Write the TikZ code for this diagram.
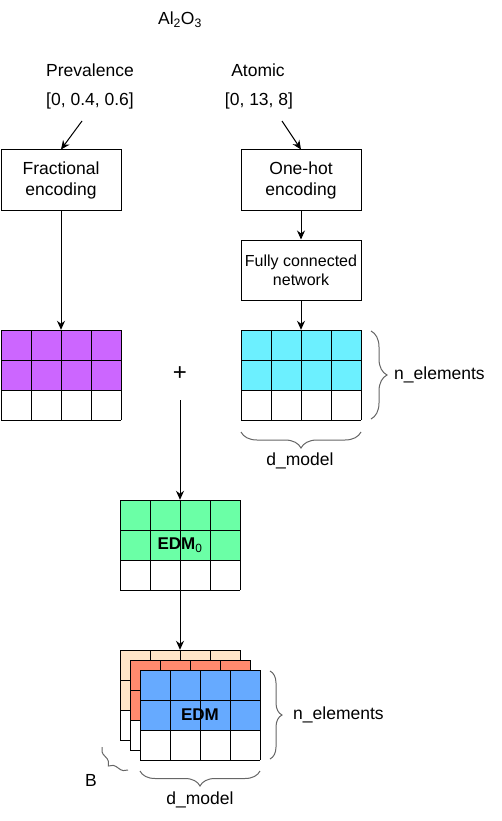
\documentclass[tikz,border=0pt]{standalone}
\usepackage{fontspec}
\setmainfont{Liberation Sans}
\usetikzlibrary{arrows.meta,decorations.pathreplacing,calc}
\definecolor{cpurple}{HTML}{CC66FF}
\definecolor{ccyan}{HTML}{6CF0FF}
\definecolor{cgreen}{HTML}{6BFFA6}
\definecolor{cblue}{HTML}{66AAFF}
\definecolor{csalmon}{HTML}{FF8A6E}
\definecolor{cpeach}{HTML}{FFE5C8}
\newcommand{\mkgrid}[5]{%
  \fill[white] (#2,#3) rectangle ++(120,90);
  \fill[#4] (#2,#3) rectangle ++(120,60);
  \foreach \i in {0,30,60,90,120} \draw[cellline] (#2+\i,#3) -- ++(0,90);
  \foreach \j in {0,30,60,90} \draw[cellline] (#2,#3+\j) -- ++(120,0);
  \node[gridlabel] (#1) at (#2+60,#3+45) {#5};
}
\begin{document}
\begin{tikzpicture}[x=1pt,y=-1pt,
  txt/.style={font=\fontsize{17.5}{21}\selectfont, inner sep=0pt, align=center},
  box/.style={draw, line width=1pt, minimum width=120pt, minimum height=60pt, inner sep=0pt, align=center, font=\fontsize{17.5}{21}\selectfont},
  arr/.style={line width=1pt, -{Stealth[length=9pt,width=8pt]}},
  cellline/.style={line width=1pt},
  gridlabel/.style={inner sep=0pt, minimum width=120pt, minimum height=90pt, font=\fontsize{17}{20}\selectfont\bfseries},
  brc/.style={draw=black!60, line width=1pt, decorate, decoration={brace, amplitude=#1}},
]
\useasboundingbox (0,0) rectangle (501,821);

% top texts
\node[txt] (formula) at (180,20) {Al\textsubscript{2}O\textsubscript{3}};
\node[txt] (prev) at (90,70) {Prevalence};
\node[txt] (prevval) at (90,101) {[0, 0.4, 0.6]};
\node[txt] (atom) at (258,70) {Atomic};
\node[txt] (atomval) at (259,101) {[0, 13, 8]};

% boxes
\node[box] (frac) at (61,180) {Fractional\\encoding};
\node[box] (onehot) at (301,180) {One-hot\\encoding};
\node[box, font=\fontsize{16}{19}\selectfont] (fc) at (301,270) {Fully connected\\network};

% grids
\mkgrid{purple}{1}{330}{cpurple}{}
\mkgrid{cyan}{241}{330}{ccyan}{}
\node[txt, font=\fontsize{24}{26}\selectfont] (plus) at (180,374) {+};
\mkgrid{edmzero}{120}{500}{cgreen}{EDM\textsubscript{\mdseries 0}}
\mkgrid{back}{120}{650}{cpeach}{}
\mkgrid{mid}{130}{660}{csalmon}{}
\mkgrid{edm}{140}{670}{cblue}{EDM}

% connectors
\coordinate (s1) at (82,121);
\coordinate (s2) at (282,121);
\coordinate (s3) at (180,400);
\draw[arr] (s1) -- (frac.north);
\draw[arr] (s2) -- (onehot.north);
\draw[arr] (onehot.south) -- (fc.north);
\draw[arr] (frac.south) -- (purple.north);
\draw[arr] (fc.south) -- (cyan.north);
\draw[arr] (s3) -- (edmzero.north);
\draw[arr] (edmzero.south) -- (back.north);

% braces
\draw[brc=16pt] (371,331) -- (371,419);
\node[txt, anchor=west] (nel1) at (394,375) {n\_elements};
\draw[brc=16pt] (361,432) -- (241,432);
\node[txt] (dm1) at (300,461) {d\_model};
\draw[brc=12pt] (270,671) -- (270,759);
\node[txt, anchor=west] (nel2) at (293,715) {n\_elements};
\draw[brc=15pt] (260,771) -- (140,771);
\node[txt] (dm2) at (200,800) {d\_model};
\draw[brc=10pt] (128,770) -- (102,747);
\node[txt] (bl) at (91,780) {B};
\end{tikzpicture}
\end{document}
